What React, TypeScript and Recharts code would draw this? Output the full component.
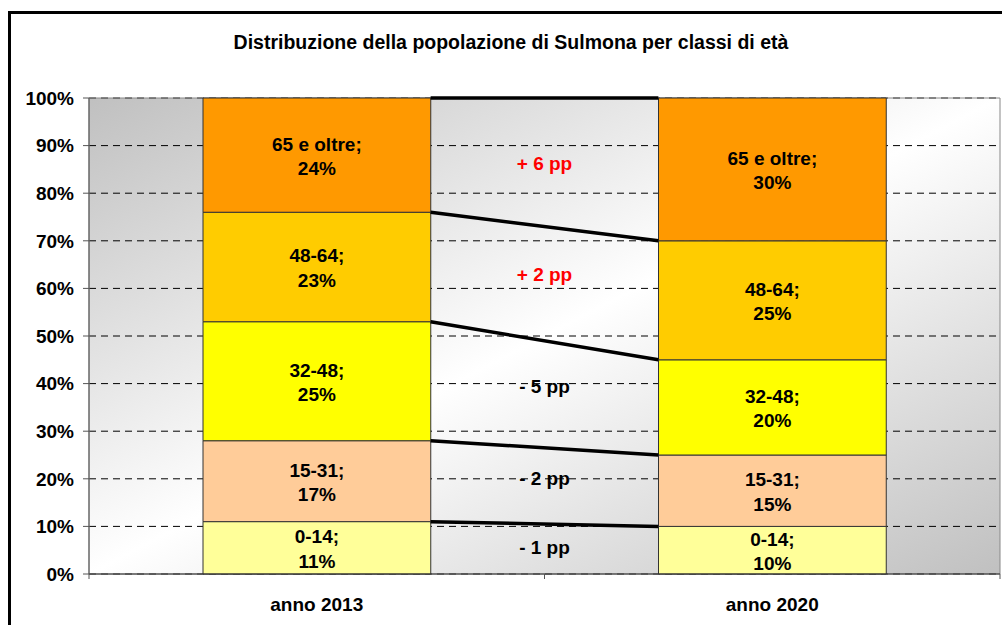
import {
  BarChart,
  Bar,
  XAxis,
  YAxis,
  CartesianGrid,
  ReferenceLine,
  ReferenceDot,
  ReferenceArea,
  LabelList,
} from "recharts";

const years = ["anno 2013", "anno 2020"];
const ageClasses = ["0-14", "15-31", "32-48", "48-64", "65 e oltre"];
const share2013 = [11, 17, 25, 23, 24];
const share2020 = [10, 15, 20, 25, 30];
// vertical level (in %) of the "pp" notes between the bars
const deltaLabelAt = [5.7, 20.2, 39.5, 63, 86.3];
const yTicks = [0, 10, 20, 30, 40, 50, 60, 70, 80, 90, 100];
const colors = ["#ffff99", "#ffcc99", "#ffff00", "#ffcc00", "#ff9900"];

const FONT = '"Liberation Sans", Arial, sans-serif';
const plotWidth = 911;

const data = years.map((year, i) => {
  const row: { [key: string]: string | number } = { pos: i + 0.5, year };
  const values = i === 0 ? share2013 : share2020;
  ageClasses.forEach((c, k) => {
    row[c] = values[k];
  });
  return row;
});

const cumulate = (arr: number[]) => {
  let s = 0;
  return arr.map((v) => (s += v));
};
const top2013 = cumulate(share2013);
const top2020 = cumulate(share2020);

const XTick = (props: any) => {
  const { x, y, payload } = props;
  const v = payload.value;
  if (Number.isInteger(v)) {
    return <line x1={x} x2={x} y1={y} y2={y + 5} stroke="#555" />;
  }
  return (
    <text x={x} y={y + 37} textAnchor="middle" fontWeight="bold" fontSize={19} fill="#000">
      {years[Math.floor(v)]}
    </text>
  );
};

const makeLabel = (name: string) => (props: any) => {
  const { x, y, width, height, value } = props;
  const cx = x + width / 2;
  const cy = y + height / 2;
  return (
    <text textAnchor="middle" fontWeight="bold" fontSize={19} fill="#000" dominantBaseline="central">
      <tspan x={cx} y={cy - 11.5}>{name};</tspan>
      <tspan x={cx} y={cy + 13}>{value}%</tspan>
    </text>
  );
};

export default function App() {
  return (
    <div
      style={{
        position: "absolute",
        left: 0,
        top: 0,
        width: 1002,
        height: 625,
        overflow: "hidden",
        background: "#fff",
        fontFamily: FONT,
      }}
    >
      <div
        style={{
          position: "absolute",
          left: 8,
          top: 11,
          width: 1100,
          height: 700,
          border: "3px solid #000",
          boxSizing: "border-box",
        }}
      />
      <div
        style={{
          position: "absolute",
          left: 11,
          top: 31,
          width: 1000,
          textAlign: "center",
          fontWeight: "bold",
          fontSize: 19.5,
          color: "#000",
        }}
      >
        Distribuzione della popolazione di Sulmona per classi di età
      </div>
      <div style={{ position: "absolute", left: 0, top: 0 }}>
        <BarChart
          width={1002}
          height={625}
          data={data}
          margin={{ top: 98, right: 2, bottom: 11, left: 0 }}
        >
          <defs>
            <linearGradient id="plotBg" x1="0" y1="0" x2="1" y2="1">
              <stop offset="0%" stopColor="#c0c0c0" />
              <stop offset="50%" stopColor="#ffffff" />
              <stop offset="100%" stopColor="#c0c0c0" />
            </linearGradient>
          </defs>
          <CartesianGrid
            vertical={false}
            stroke="#000"
            strokeDasharray="7 5"
            fill="url(#plotBg)"
            fillOpacity={1}
          />
          <XAxis
            dataKey="pos"
            type="number"
            domain={[0, 2]}
            ticks={[0, 0.5, 1, 1.5, 2]}
            tick={<XTick />}
            tickLine={false}
            tickSize={0}
            tickMargin={0}
            height={40}
            axisLine={{ stroke: "#333" }}
            interval={0}
          />
          <YAxis
            domain={[0, 100]}
            ticks={yTicks}
            tickFormatter={(v) => `${v}%`}
            width={89}
            tickMargin={9}
            tickSize={6}
            axisLine={{ stroke: "#555" }}
            tickLine={{ stroke: "#555" }}
            tick={{ fill: "#000", fontSize: 19, fontWeight: "bold" }}
            interval={0}
          />
          <ReferenceArea x1={0} x2={2} y1={0} y2={100} fill="none" stroke="#888" />
          {ageClasses.map((c, k) => (
            <Bar
              key={c}
              dataKey={c}
              stackId="a"
              fill={colors[k]}
              stroke="#333"
              strokeWidth={1}
              barSize={plotWidth / 4}
              isAnimationActive={false}
            >
              <LabelList dataKey={c} content={makeLabel(c)} />
            </Bar>
          ))}
          {ageClasses.map((c, k) => (
            <ReferenceLine
              key={"l" + c}
              segment={[
                { x: 0.75, y: top2013[k] },
                { x: 1.25, y: top2020[k] },
              ]}
              stroke="#000"
              strokeWidth={3.5}
            />
          ))}
          {ageClasses.map((c, k) => {
            const d = share2020[k] - share2013[k];
            return (
              <ReferenceDot
                key={"d" + c}
                x={1}
                y={deltaLabelAt[k]}
                r={1}
                fill="none"
                stroke="none"
                label={{
                  value: `${d > 0 ? "+" : "-"} ${Math.abs(d)} pp`,
                  position: "center",
                  fill: d > 0 ? "#ff0000" : "#000",
                  fontSize: 19,
                  fontWeight: "bold",
                }}
              />
            );
          })}
        </BarChart>
      </div>
    </div>
  );
}
